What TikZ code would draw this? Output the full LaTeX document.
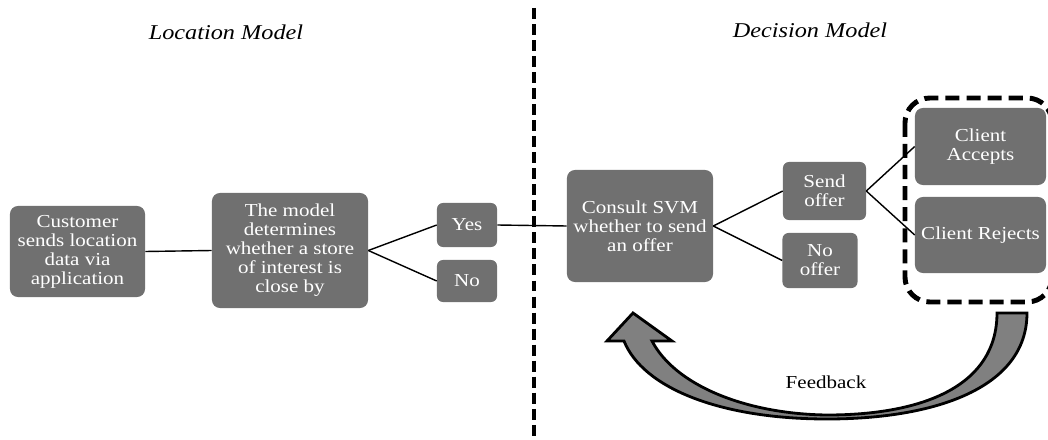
\documentclass[tikz,border=0pt]{standalone}
\usepackage{fontspec}
\setmainfont{Liberation Serif}[FakeStretch=1.15]
\usepackage{tikz}
\definecolor{boxgray}{RGB}{112,112,112}
\definecolor{arrowgray}{RGB}{128,128,128}

\begin{document}
\begin{tikzpicture}[x=0.025cm, y=-0.025cm,
        box/.style={rectangle, rounded corners=0.2cm, fill=boxgray, text=white, align=center, inner sep=0pt, font=\fontsize{13}{13.5}\selectfont},
        title/.style={font=\fontsize{15}{16}\selectfont\itshape},
        link/.style={line width=1pt}]
        \useasboundingbox (0,0) rectangle (1048,440);

        % Titles
        \node[title] (loc) at (226, 32) {Location Model};
        \node[title] (dec) at (810, 30) {Decision Model};

        % Divider
        \coordinate (divtop) at (534, 8);
        \coordinate (divbot) at (534, 442);
        \draw[line width=2.8pt, dash pattern=on 7.8pt off 3.6pt] (divtop) -- (divbot);

        % Nodes
        \node[box, minimum width=3.375cm, minimum height=2.275cm] (cust) at (77.5, 251.5) {Customer\\sends location\\data via\\application};
        \node[box, minimum width=3.9cm, minimum height=2.875cm] (model) at (290, 250.5) {The model\\determines\\whether a store\\of interest is\\close by};
        \node[box, minimum width=1.5cm, minimum height=1.1cm, rounded corners=0.15cm] (yes) at (467, 225) {Yes};
        \node[box, minimum width=1.5cm, minimum height=1.05cm, rounded corners=0.15cm] (no) at (467, 281) {No};
        \node[box, minimum width=3.65cm, minimum height=2.8cm] (svm) at (640, 226) {Consult SVM\\whether to send\\an offer};
        \node[box, minimum width=2.075cm, minimum height=1.45cm, rounded corners=0.15cm] (send) at (824.5, 191) {Send\\offer};
        \node[box, minimum width=1.875cm, minimum height=1.375cm, rounded corners=0.15cm] (nooffer) at (820, 260.5) {No\\offer};
        \node[box, minimum width=3.275cm, minimum height=1.925cm] (accept) at (980.5, 146.5) {Client\\Accepts};
        \node[box, minimum width=3.275cm, minimum height=1.9cm] (reject) at (980.5, 235) {Client Rejects};

        % Group frame
        \draw[line width=3.5pt, dash pattern=on 10pt off 5pt, rounded corners=0.62cm] (905, 98) rectangle (1052, 302);

        % Lines
        \draw[link] (cust.east) -- (model.west);
        \draw[link] (model.east) -- (yes.west);
        \draw[link] (model.east) -- (no.west);
        \draw[link] (yes.east) -- (svm.west);
        \draw[link] (svm.east) -- (send.west);
        \draw[link] (svm.east) -- (nooffer.west);
        \draw[link] (send.east) -- (accept.west);
        \draw[link] (send.east) -- (reject.west);

        % Feedback arrow
        \draw[line width=2pt, fill=arrowgray, line join=miter]
            (1027, 313) .. controls (1027, 388) and (935, 419) .. (827, 419)
            .. controls (720, 419) and (643, 388) .. (624, 341)
            -- (607, 341) -- (633, 313) -- (672, 341) -- (652, 341)
            .. controls (675, 385) and (745, 414) .. (827, 415)
            .. controls (925, 415) and (997, 385) .. (997, 313) -- cycle;
        \node[font=\fontsize{13}{13.5}\selectfont] (fb) at (826, 382) {Feedback};
    \end{tikzpicture}
\end{document}
